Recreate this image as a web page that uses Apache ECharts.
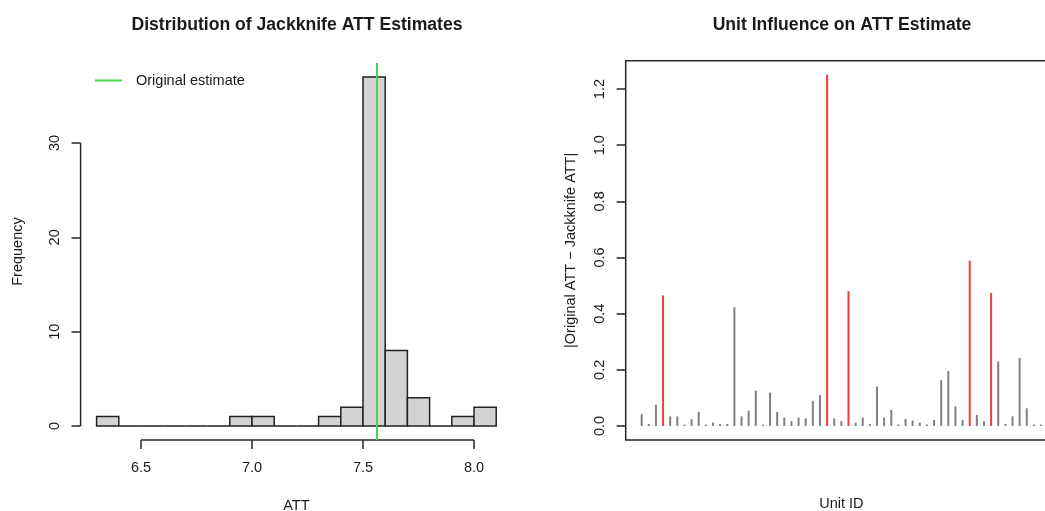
<!DOCTYPE html>
<html>
<head>
<meta charset="utf-8">
<script src="https://cdn.jsdelivr.net/npm/echarts@6/dist/echarts.min.js"></script>
<style>html,body{margin:0;padding:0;background:#fff}#c{width:1045px;height:511px}</style>
</head>
<body>
<div id="c"></div>
<script>
// ---- Data ----
const binEdges = [6.3,6.4,6.5,6.6,6.7,6.8,6.9,7.0,7.1,7.2,7.3,7.4,7.5,7.6,7.7,7.8,7.9,8.0,8.1];
const binCounts = [1,0,0,0,0,0,1,1,0,0,1,2,37,8,3,0,1,2];
const originalEstimate = 7.563;
const histXTicks = [6.5,7.0,7.5,8.0];
const histYTicks = [0,10,20,30];

const unitInfluence = [0.042,0.007,0.076,0.465,0.034,0.034,0.005,0.024,0.050,0.005,
  0.012,0.007,0.007,0.423,0.034,0.055,0.126,0.005,0.119,0.050,
  0.030,0.017,0.030,0.027,0.089,0.110,1.251,0.027,0.017,0.480,
  0.012,0.030,0.007,0.141,0.030,0.057,0.005,0.025,0.019,0.012,
  0.005,0.021,0.163,0.196,0.070,0.021,0.589,0.039,0.017,0.474,
  0.230,0.007,0.034,0.242,0.063,0.005,0.005];
const influentialUnits = [4,27,30,47,50];
const influenceYTicks = [0,0.2,0.4,0.6,0.8,1.0,1.2];

// ---- derived ranges (R-style 4% padding) ----
const hxMin = binEdges[0], hxMax = binEdges[binEdges.length-1];
const hxPad = 0.04*(hxMax-hxMin);
const hyMax = Math.max(...binCounts), hyPad = 0.04*hyMax;
const nUnits = unitInfluence.length;
const ixPad = 0.04*(nUnits-1);
const iyMax = Math.max(...unitInfluence), iyPad = 0.04*iyMax;

const FONT = 'Liberation Sans, Arial, Helvetica, sans-serif';
const TXT = '#1a1a1a';
const AX = '#262626';

const chart = echarts.init(document.getElementById('c'), null, {renderer:'canvas'});
chart.setOption({
  backgroundColor:'#fff',
  animation:false,
  textStyle:{fontFamily:FONT},
  graphic:[
    {type:'text', x:297, y:25, style:{text:'Distribution of Jackknife ATT Estimates', font:'bold 17.6px '+FONT, fill:TXT, align:'center', verticalAlign:'middle'}},
    {type:'text', x:842, y:25, style:{text:'Unit Influence on ATT Estimate', font:'bold 17.6px '+FONT, fill:TXT, align:'center', verticalAlign:'middle'}}
  ],
  legend:{
    left:95, top:73, padding:0, itemWidth:27, itemHeight:2, icon:'rect',
    data:['Original estimate'],
    textStyle:{fontSize:14.5, color:TXT, fontFamily:FONT, padding:[0,0,0,9]}
  },
  grid:[
    {left:80.6, top:63, width:431.6, height:377, containLabel:false, outerBoundsMode:'none'},
    {left:625.7, top:60.7, width:431.3, height:379.3, containLabel:false, outerBoundsMode:'none', show:true, borderColor:AX, borderWidth:1.5, backgroundColor:'transparent'}
  ],
  xAxis:[
    {gridIndex:0, type:'value', min:hxMin-hxPad, max:hxMax+hxPad, splitLine:{show:false},
     axisLine:{show:false, onZero:false},
     axisTick:{show:true, inside:false, customValues:histXTicks, length:9, lineStyle:{color:AX, width:1.5}},
     axisLabel:{customValues:histXTicks, margin:20, fontSize:14.5, color:TXT, fontFamily:FONT, formatter:v=>v.toFixed(1)},
     name:'ATT', nameLocation:'middle', nameGap:58, nameTextStyle:{fontSize:14.5, color:TXT, fontFamily:FONT}},
    {gridIndex:1, type:'value', min:1-ixPad, max:nUnits+ixPad, splitLine:{show:false},
     axisLine:{show:false, onZero:false}, axisTick:{show:false}, axisLabel:{show:false},
     name:'Unit ID', nameLocation:'middle', nameGap:56, nameTextStyle:{fontSize:14.5, color:TXT, fontFamily:FONT}}
  ],
  yAxis:[
    {gridIndex:0, type:'value', min:-hyPad, max:hyMax+hyPad, splitLine:{show:false},
     axisLine:{show:false, onZero:false},
     axisTick:{show:true, inside:false, customValues:histYTicks, length:9, lineStyle:{color:AX, width:1.5}},
     axisLabel:{customValues:histYTicks, rotate:90, margin:18, fontSize:14.5, color:TXT, fontFamily:FONT},
     name:'Frequency', nameLocation:'middle', nameGap:55, nameTextStyle:{fontSize:14.5, color:TXT, fontFamily:FONT}},
    {gridIndex:1, type:'value', min:-iyPad, max:iyMax+iyPad, splitLine:{show:false},
     axisLine:{show:false, onZero:false},
     axisTick:{show:true, inside:false, customValues:influenceYTicks, length:9, lineStyle:{color:AX, width:1.5}},
     axisLabel:{customValues:influenceYTicks, rotate:90, margin:18, fontSize:14.5, color:TXT, fontFamily:FONT, formatter:v=>v.toFixed(1)},
     name:'|Original ATT \u2212 Jackknife ATT|', nameLocation:'middle', nameGap:47, nameTextStyle:{fontSize:14.5, color:TXT, fontFamily:FONT}}
  ],
  series:[
    {
      type:'custom', name:'Histogram', xAxisIndex:0, yAxisIndex:0, silent:true,
      encode:{x:[0,1], y:2},
      data: binCounts.map((c,i)=>[binEdges[i], binEdges[i+1], c]),
      renderItem:function(params, api){
        const p0 = api.coord([api.value(0), 0]);
        const p1 = api.coord([api.value(1), api.value(2)]);
        return {type:'rect', shape:{x:p0[0], y:p1[1], width:p1[0]-p0[0], height:p0[1]-p1[1]},
          style:{fill:'#d3d3d3', stroke:'#222', lineWidth:1.5}};
      }
    },
    {
      type:'custom', name:'HistAxes', xAxisIndex:0, yAxisIndex:0, silent:true, clip:false,
      data:[[histXTicks[0], histYTicks[0]]],
      renderItem:function(params, api){
        const yb = -hyPad, xl = hxMin-hxPad;
        const a0 = api.coord([histXTicks[0], yb]), a1 = api.coord([histXTicks[histXTicks.length-1], yb]);
        const b0 = api.coord([xl, histYTicks[0]]), b1 = api.coord([xl, histYTicks[histYTicks.length-1]]);
        return {type:'group', children:[
          {type:'line', shape:{x1:a0[0], y1:a0[1], x2:a1[0], y2:a1[1]}, style:{stroke:AX, lineWidth:1.5}},
          {type:'line', shape:{x1:b0[0], y1:b0[1], x2:b1[0], y2:b1[1]}, style:{stroke:AX, lineWidth:1.5}}
        ]};
      }
    },
    {
      type:'line', name:'Original estimate', xAxisIndex:0, yAxisIndex:0, silent:true,
      symbol:'none', showSymbol:false, color:'#4fd34f',
      lineStyle:{color:'#4fd34f', width:2},
      data:[[originalEstimate, -hyPad],[originalEstimate, hyMax+hyPad]]
    },
    {
      type:'custom', name:'Influence', xAxisIndex:1, yAxisIndex:1, silent:true,
      encode:{x:0, y:1},
      data: unitInfluence.map((v,i)=>[i+1, v]),
      renderItem:function(params, api){
        const id = api.value(0);
        const p0 = api.coord([id, 0]);
        const p1 = api.coord([id, api.value(1)]);
        const red = influentialUnits.indexOf(id) >= 0;
        return {type:'line', shape:{x1:p0[0], y1:p0[1], x2:p1[0], y2:p1[1]},
          style:{stroke: red ? '#e8403f' : '#808080', lineWidth:2}};
      }
    }
  ]
});
</script>
</body>
</html>
